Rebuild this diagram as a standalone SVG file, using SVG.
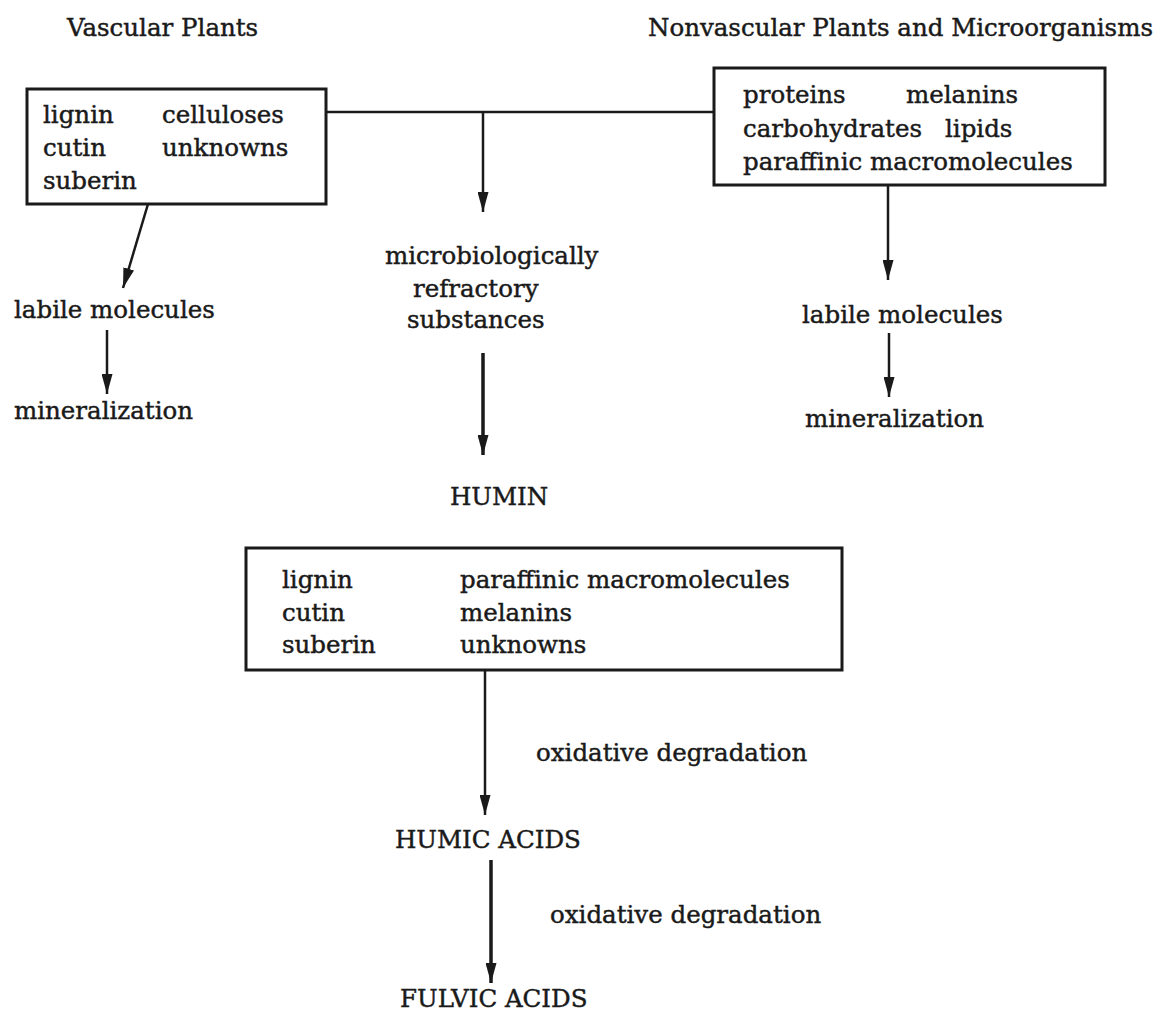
<svg xmlns="http://www.w3.org/2000/svg" width="1161" height="1015" viewBox="0 0 1161 1015">
<style>
text{font-family:"DejaVu Serif","Liberation Serif",serif;font-size:24.5px;fill:#1a1a1a;stroke:#1a1a1a;stroke-width:0.45}
.box{fill:none;stroke:#1a1a1a;stroke-width:3}
.ln{fill:none;stroke:#1a1a1a;stroke-width:2.5}
.thick{stroke-width:3.5}
</style>
<defs>
<marker id="ah" viewBox="0 0 20 11" markerWidth="20" markerHeight="11" refX="20" refY="5.5" orient="auto" markerUnits="userSpaceOnUse">
<path d="M0,0 L20,5.5 L0,11 z" fill="#1a1a1a"/>
</marker>
</defs>
<rect width="1161" height="1015" fill="#ffffff"/>
<g id="title-vascular"><text x="67" y="36">Vascular Plants</text></g>
<g id="title-nonvascular"><text x="1153" y="36" text-anchor="end">Nonvascular Plants and Microorganisms</text></g>
<g id="box-vascular">
<rect class="box" x="27" y="89" width="299" height="115"/>
<text x="43" y="123">lignin</text><text x="162" y="123">celluloses</text>
<text x="43" y="156">cutin</text><text x="162" y="156">unknowns</text>
<text x="43" y="189">suberin</text>
</g>
<g id="box-nonvascular">
<rect class="box" x="714" y="68" width="391" height="117"/>
<text x="743" y="103">proteins</text><text x="906" y="103">melanins</text>
<text x="743" y="137">carbohydrates</text><text x="945" y="137">lipids</text>
<text x="743" y="170">paraffinic macromolecules</text>
</g>
<g id="labile-left"><text x="14" y="318">labile molecules</text></g>
<g id="mineral-left"><text x="14" y="419">mineralization</text></g>
<g id="labile-right"><text x="802" y="323">labile molecules</text></g>
<g id="mineral-right"><text x="805" y="427">mineralization</text></g>
<g id="refractory">
<text x="385" y="264">microbiologically</text>
<text x="413" y="297">refractory</text>
<text x="407" y="328">substances</text>
</g>
<g id="humin"><text x="450" y="505">HUMIN</text></g>
<g id="box-residue">
<rect class="box" x="246" y="548" width="596" height="122"/>
<text x="282" y="588">lignin</text><text x="460" y="588">paraffinic macromolecules</text>
<text x="282" y="621">cutin</text><text x="460" y="621">melanins</text>
<text x="282" y="653">suberin</text><text x="460" y="653">unknowns</text>
</g>
<g id="humic"><text x="395" y="848">HUMIC ACIDS</text></g>
<g id="fulvic"><text x="400" y="1007">FULVIC ACIDS</text></g>
<g id="labels">
<text x="536" y="761">oxidative degradation</text>
<text x="550" y="923">oxidative degradation</text>
</g>
<g id="connectors">
<line class="ln" x1="326" y1="112" x2="714" y2="112"/>
<line class="ln" x1="483" y1="112" x2="483" y2="212" marker-end="url(#ah)"/>
<line class="ln" x1="148" y1="204" x2="123" y2="288" marker-end="url(#ah)"/>
<line class="ln" x1="107" y1="330" x2="107" y2="394" marker-end="url(#ah)"/>
<line class="ln" x1="888" y1="185" x2="888" y2="280" marker-end="url(#ah)"/>
<line class="ln" x1="889" y1="333" x2="889" y2="397" marker-end="url(#ah)"/>
<line class="ln thick" x1="483" y1="353" x2="483" y2="455" marker-end="url(#ah)"/>
<line class="ln" x1="485" y1="670" x2="485" y2="815" marker-end="url(#ah)"/>
<line class="ln thick" x1="491" y1="860" x2="491" y2="983" marker-end="url(#ah)"/>
</g>
</svg>
